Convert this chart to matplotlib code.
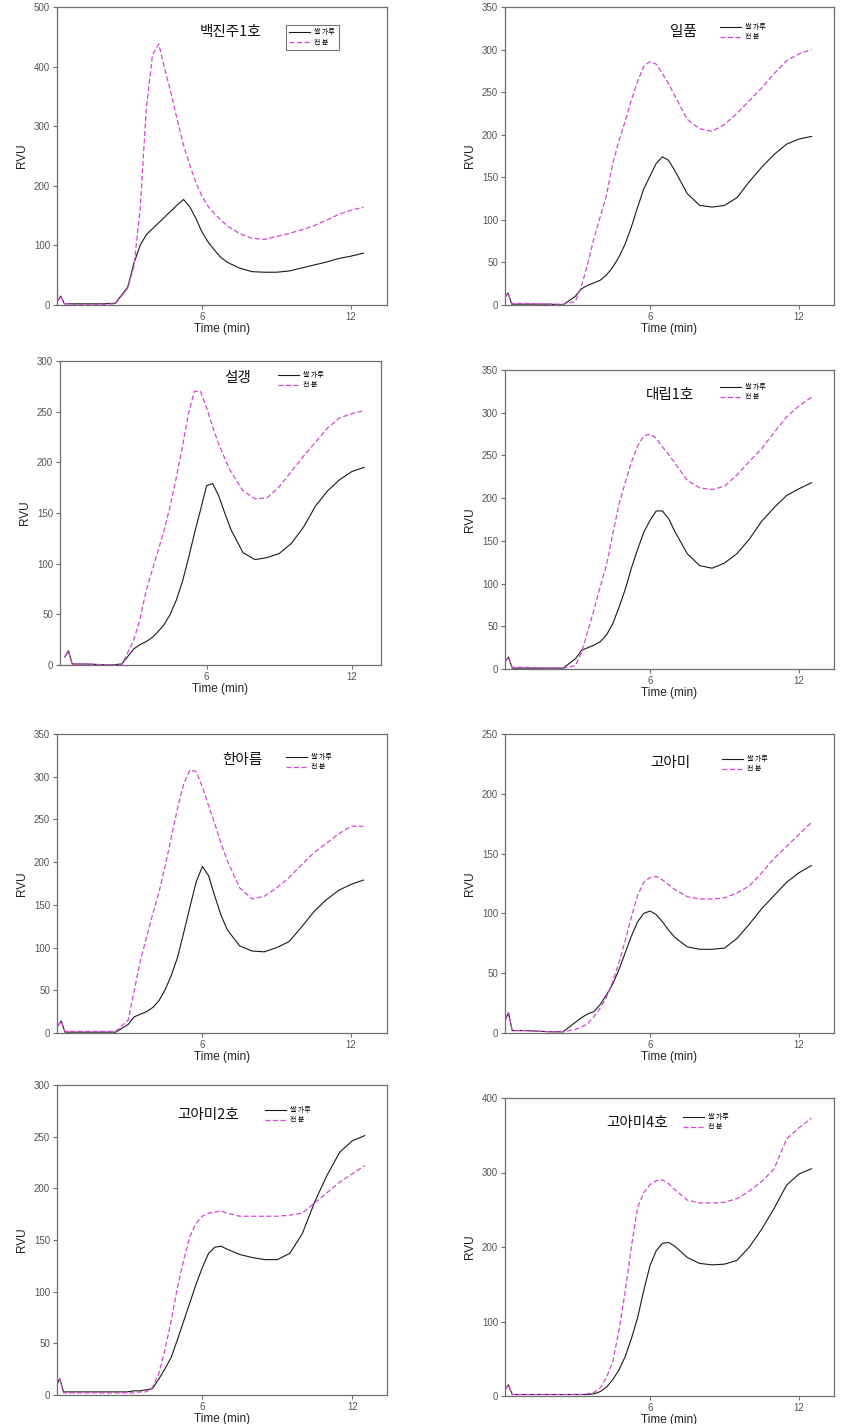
import matplotlib
matplotlib.use('Agg')
from matplotlib import pyplot as plt

# time grid (min) shared by all RVA curves
TIME = [0.15, 0.3, 0.45, 1, 2, 2.5, 3, 3.25, 3.5, 3.75, 4, 4.25, 4.5, 4.75, 5, 5.25, 5.5,
        5.75, 6, 6.25, 6.5, 6.75, 7, 7.5, 8, 8.5, 9, 9.5, 10, 10.5, 11, 11.5, 12, 12.5]

VARIETIES = ['백진주1호', '일품', '설갱', '대립1호', '한아름', '고아미', '고아미2호', '고아미4호']
SERIES = ['쌀 가루', '전 분']

# rice flour (쌀 가루)
flour_bjj = [5, 15, 2, 2, 2, 3, 30, 70, 100, 118, 128, 138, 148, 158, 168, 177, 165,
             145, 122, 105, 92, 80, 72, 62, 56, 55, 55, 57, 62, 67, 72, 78, 82, 87]
flour_ilp = [8, 14, 1, 1, 1, 0, 10, 19, 23, 26, 29, 35, 44, 56, 71, 91, 114,
             136, 151, 166, 174, 170, 158, 131, 117, 115, 117, 126, 145, 162, 177, 189, 195, 198]
flour_sg = [8, 14, 1, 1, 0, 1, 16, 20, 23, 27, 33, 40, 50, 64, 82, 105, 130,
            153, 177, 179, 167, 150, 134, 111, 104, 106, 110, 120, 136, 157, 172, 183, 191, 195]
flour_dr = [8, 14, 1, 1, 1, 1, 12, 22, 25, 28, 32, 40, 53, 72, 93, 118, 140,
            160, 174, 185, 185, 176, 161, 135, 121, 118, 124, 135, 152, 173, 189, 203, 211, 218]
flour_har = [8, 14, 1, 1, 1, 1, 10, 19, 22, 25, 30, 38, 51, 68, 89, 118, 148,
             177, 195, 184, 160, 138, 121, 102, 96, 95, 100, 107, 124, 142, 156, 167, 174, 179]
flour_gam = [10, 17, 2, 2, 1, 1, 9, 13, 16, 18, 24, 32, 41, 53, 67, 81, 93,
             100, 102, 99, 93, 86, 80, 72, 70, 70, 71, 79, 91, 104, 115, 126, 134, 140]
flour_gam2 = [8, 16, 3, 3, 3, 3, 3, 4, 4, 5, 6, 15, 25, 36, 53, 71, 89,
              107, 123, 137, 143, 144, 141, 136, 133, 131, 131, 137, 156, 187, 213, 235, 246, 251]
flour_gam4 = [8, 15, 2, 2, 2, 2, 2, 2, 2, 3, 6, 12, 22, 35, 53, 77, 105,
              142, 175, 195, 205, 206, 201, 186, 178, 176, 177, 182, 200, 224, 252, 283, 298, 305]

# starch (전 분)
starch_bjj = [5, 15, 2, 1, 1, 2, 28, 65, 160, 330, 420, 438, 395, 355, 310, 268, 235,
              205, 182, 165, 153, 143, 133, 120, 112, 110, 115, 120, 126, 133, 142, 152, 159, 164]
starch_ilp = [8, 14, 2, 2, 1, 1, 4, 22, 48, 78, 103, 128, 165, 192, 215, 240, 262,
              280, 286, 283, 272, 260, 246, 218, 207, 204, 212, 225, 240, 255, 272, 287, 295, 300]
starch_sg = [8, 14, 1, 1, 0, 0, 25, 45, 73, 93, 113, 133, 157, 185, 215, 248, 270,
             270, 254, 235, 218, 204, 191, 172, 164, 165, 176, 191, 206, 220, 234, 244, 248, 251]
starch_dr = [8, 14, 2, 2, 1, 1, 4, 20, 45, 70, 97, 122, 158, 193, 218, 242, 261,
             273, 275, 270, 260, 251, 241, 221, 212, 210, 214, 227, 243, 258, 277, 295, 308, 318]
starch_har = [8, 14, 2, 2, 2, 2, 15, 50, 85, 113, 140, 165, 196, 230, 264, 292, 308,
              306, 288, 266, 245, 222, 202, 170, 157, 160, 170, 182, 197, 211, 222, 233, 242, 242]
starch_gam = [10, 17, 2, 2, 1, 1, 3, 5, 8, 14, 21, 30, 43, 59, 77, 97, 115,
              126, 130, 131, 128, 124, 120, 114, 112, 112, 113, 117, 123, 134, 146, 156, 166, 176]
starch_gam2 = [8, 16, 2, 2, 2, 2, 2, 2, 3, 3, 7, 20, 43, 71, 103, 130, 153,
               166, 173, 176, 177, 178, 176, 173, 173, 173, 173, 174, 176, 186, 196, 206, 214, 222]
starch_gam4 = [8, 15, 2, 2, 2, 2, 2, 2, 3, 5, 11, 25, 46, 88, 140, 200, 253,
               273, 284, 289, 290, 285, 277, 263, 259, 259, 260, 265, 275, 288, 305, 345, 360, 373]

FLOUR = [flour_bjj, flour_ilp, flour_sg, flour_dr, flour_har, flour_gam, flour_gam2, flour_gam4]
STARCH = [starch_bjj, starch_ilp, starch_sg, starch_dr, starch_har, starch_gam, starch_gam2, starch_gam4]
YMAX = [500, 350, 300, 350, 350, 250, 300, 400]
YSTEP = [100, 50, 50, 50, 50, 50, 50, 100]

# layout in pixels
W, H = 864, 1424
boxes = [(57, 7, 387, 305), (505, 7, 834, 305),
         (60, 361, 381, 665), (505, 370, 834, 669),
         (57, 734, 387, 1033), (505, 734, 834, 1033),
         (57, 1085, 387, 1395), (505, 1098, 834, 1396)]
xlims = [(0.15, 13.45), (0.18, 13.4), (-0.05, 13.2), (0.16, 13.41),
         (0.13, 13.45), (0.16, 13.41), (0.19, 13.39), (0.16, 13.41)]
title_pos = [(230, 32), (683, 32), (238, 378), (670, 395),
             (242, 760), (670, 763), (208, 1115), (637, 1123)]
leg_pos = [(286, 25), (720, 23), (278, 371), (720, 383),
           (286, 753), (722, 755), (265, 1106), (683, 1113)]

cjk = ['Noto Sans CJK KR', 'DejaVu Sans']
grey = '#6e6e6e'

fig = plt.figure(figsize=(W / 100, H / 100), dpi=100)

for i in range(8):
    l, t, r, b = boxes[i]
    ax = fig.add_axes([l / W, 1 - b / H, (r - l) / W, (b - t) / H])
    ax.plot(TIME, FLOUR[i], color='#1a1a1a', lw=0.8, label=SERIES[0])
    ax.plot(TIME, STARCH[i], color='#d846d8', lw=0.9, dashes=(4, 2), label=SERIES[1])
    ax.set_xlim(*xlims[i])
    ax.set_ylim(0, YMAX[i])
    ax.set_xticks([6, 12])
    ax.set_yticks(range(0, YMAX[i] + 1, YSTEP[i]))
    for s in ax.spines.values():
        s.set_color(grey)
        s.set_linewidth(0.9)
    ax.tick_params(colors=grey, labelcolor='#555555', labelsize=7, length=3, width=0.8, pad=2)
    ax.set_xlabel('Time (min)', family='Liberation Sans', fontsize=8.5, color='#222222', labelpad=1)
    ax.set_ylabel('RVU', family='Liberation Sans', fontsize=8.5, color='#222222', labelpad=4)
    for lab in ax.get_xticklabels() + ax.get_yticklabels():
        lab.set_family('Liberation Sans')

    tx, ty = title_pos[i]
    fig.text(tx / W, 1 - ty / H, VARIETIES[i], family=cjk, fontsize=10.5,
             ha='center', va='center', color='#111111')

    lx, ly = leg_pos[i]
    framed = (i == 0)
    leg = ax.legend(loc='upper left', bbox_to_anchor=(lx / W, 1 - ly / H),
                    bbox_transform=fig.transFigure, frameon=framed,
                    prop={'family': cjk, 'size': 5}, handlelength=3.0,
                    handletextpad=0.6, labelspacing=0.35,
                    borderpad=0.5 if framed else 0, borderaxespad=0, fancybox=False)
    if framed:
        leg.get_frame().set_edgecolor('#555555')
        leg.get_frame().set_linewidth(0.8)

fig.savefig('out.png', dpi=100)
